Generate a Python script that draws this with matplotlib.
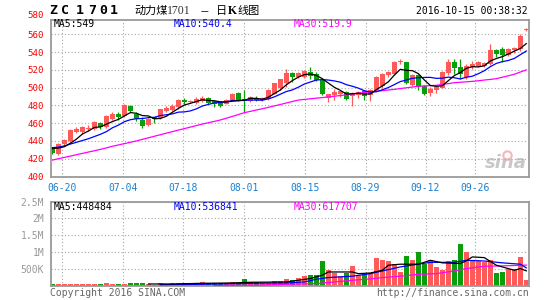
import matplotlib
matplotlib.use("Agg")
import matplotlib.pyplot as plt
import numpy as np

# daily candles, ZC1701, visible window (06-16 .. 10-14)
opens = [431.4, 425.7, 436.4, 440.2, 450.4, 449.6, 453.8, 453.4, 459.9, 456.1,
         464.8, 470.5, 467.9, 479.2, 470.5, 463.7, 458.4, 466.7, 465.6, 473.5,
         475.0, 478.1, 485.7, 484.2, 482.7, 484.6, 488.4, 484.6, 483.0, 481.9,
         485.7, 494.1, 486.9, 484.6, 488.8, 485.7, 486.9, 493.3, 499.0, 504.8,
         516.2, 512.0, 512.0, 517.0, 515.8, 508.6, 488.5, 491.5, 492.3, 494.9,
         490.4, 491.5, 496.0, 491.5, 497.2, 501.8, 514.3, 515.8, 528.9, 528.4,
         502.9, 514.4, 501.9, 494.3, 496.9, 500.0, 515.9, 529.2, 522.8, 511.4,
         522.8, 524.7, 524.7, 526.6, 541.8, 543.7, 537.2, 541.8, 543.7, 565.0]
closes = [426.9, 437.1, 440.9, 452.3, 453.4, 455.3, 454.2, 461.0, 455.3, 468.6,
          469.8, 466.7, 480.8, 473.5, 464.8, 456.5, 464.8, 464.8, 475.4, 477.3,
          479.2, 486.5, 483.8, 484.8, 487.6, 488.8, 482.7, 481.9, 479.2, 486.5,
          493.3, 485.7, 484.6, 489.5, 486.5, 488.4, 497.1, 504.8, 509.7, 516.2,
          511.6, 516.5, 518.9, 513.2, 508.2, 493.0, 492.3, 494.9, 496.1, 487.7,
          494.2, 494.9, 490.4, 497.2, 512.0, 515.0, 518.1, 528.4, 529.3, 505.6,
          514.3, 500.7, 493.1, 498.1, 500.7, 517.8, 529.2, 521.6, 515.2, 524.7,
          526.6, 528.5, 527.7, 542.5, 538.0, 537.2, 542.9, 544.4, 557.7, 565.5]
highs = [432.5, 438.0, 442.0, 453.0, 455.3, 457.0, 458.4, 462.0, 461.5, 469.0,
         472.5, 473.0, 481.0, 480.0, 472.0, 467.0, 466.0, 467.0, 476.0, 479.0,
         481.0, 487.0, 488.6, 486.0, 489.0, 490.7, 489.0, 485.7, 484.0, 487.5,
         494.0, 494.5, 497.1, 491.0, 490.7, 489.5, 498.0, 505.5, 510.0, 520.8,
         517.0, 518.0, 520.0, 522.7, 517.0, 510.0, 493.0, 498.0, 497.0, 496.0,
         495.0, 496.0, 497.0, 498.0, 513.0, 516.0, 519.0, 530.0, 532.2, 529.0,
         515.0, 515.0, 503.0, 500.7, 502.0, 519.0, 532.3, 532.3, 532.3, 526.5,
         529.6, 530.4, 529.0, 548.6, 543.7, 545.6, 545.0, 546.0, 560.8, 566.5]
lows = [425.0, 424.0, 435.0, 439.0, 448.5, 448.0, 450.8, 452.0, 453.0, 455.0,
        464.0, 464.0, 467.0, 472.0, 462.0, 455.0, 457.0, 460.0, 465.0, 472.0,
        474.0, 476.0, 482.0, 482.5, 481.0, 484.0, 481.0, 478.1, 478.0, 481.0,
        485.0, 485.0, 472.4, 484.0, 485.0, 485.0, 486.0, 493.0, 497.1, 501.0,
        506.7, 511.0, 511.0, 510.0, 507.0, 492.0, 483.9, 486.6, 489.0, 486.0,
        479.0, 488.0, 486.6, 484.7, 496.0, 500.0, 512.0, 514.0, 526.0, 504.0,
        502.0, 497.0, 492.0, 490.5, 494.0, 499.0, 514.0, 515.0, 509.5, 510.0,
        521.0, 522.8, 523.0, 525.0, 534.2, 528.5, 536.0, 539.0, 541.0, 563.5]
# volume, thousands of lots
volumes = [50, 50, 50, 50, 50, 50, 50, 50, 50, 90,
           50, 50, 50, 90, 90, 90, 70, 40, 80, 40,
           80, 80, 80, 80, 80, 110, 80, 80, 80, 80,
           110, 80, 200, 110, 110, 100, 100, 140, 150, 200,
           170, 230, 290, 320, 320, 730, 475, 385, 290, 375,
           585, 320, 350, 385, 830, 760, 730, 660, 415, 880,
           760, 1010, 660, 760, 565, 465, 730, 760, 1240, 1010,
           760, 730, 710, 760, 385, 415, 495, 495, 860, 170]

# moving averages as drawn on the chart
ma5 = [431.5, 432.0, 433.5, 437.5, 442.1, 447.8, 451.2, 455.2, 455.8, 458.9,
       461.8, 464.3, 468.2, 471.9, 471.1, 468.5, 468.1, 464.9, 465.3, 467.8,
       472.3, 476.6, 480.4, 482.3, 484.4, 486.3, 485.5, 485.2, 484.0, 483.8,
       484.7, 485.3, 485.9, 487.9, 487.9, 486.9, 489.2, 493.3, 497.3, 503.2,
       507.9, 511.8, 514.6, 515.3, 513.7, 510.0, 505.1, 500.3, 496.9, 492.8,
       493.0, 493.6, 492.7, 492.9, 497.7, 501.9, 506.5, 514.1, 520.6, 519.3,
       519.1, 515.7, 508.6, 502.4, 501.4, 502.1, 507.8, 513.5, 516.9, 521.7,
       523.5, 523.3, 524.5, 530.0, 532.7, 534.8, 537.7, 541.0, 544.0, 549.5]
ma10 = [432.5, 433.0, 434.5, 436.5, 438.5, 440.5, 442.5, 445.0, 447.5, 450.5,
        454.8, 457.8, 461.7, 463.9, 465.0, 465.2, 466.2, 466.6, 468.6, 469.5,
        470.4, 472.4, 472.7, 473.8, 476.1, 479.3, 481.1, 482.8, 483.2, 484.1,
        485.5, 485.4, 485.6, 486.0, 485.9, 485.8, 487.3, 489.6, 492.6, 495.6,
        497.4, 500.5, 504.0, 506.3, 508.5, 509.0, 508.5, 507.5, 506.1, 503.3,
        501.5, 499.4, 496.5, 494.9, 495.3, 497.5, 500.1, 503.4, 506.8, 508.5,
        510.5, 511.1, 511.4, 511.5, 510.4, 510.6, 511.8, 511.1, 509.7, 511.6,
        512.8, 515.6, 519.0, 523.5, 527.2, 529.2, 530.5, 532.8, 537.0, 541.1]
ma30 = [418.5, 420.0, 421.5, 423.0, 424.5, 426.0, 427.5, 429.0, 430.5, 432.2,
        434.0, 435.5, 437.0, 438.5, 440.0, 441.8, 443.5, 445.3, 447.0, 448.8,
        450.5, 452.2, 453.9, 455.6, 457.3, 459.0, 460.5, 462.0, 463.6, 465.6,
        467.6, 469.7, 471.8, 473.3, 474.8, 476.2, 477.8, 479.4, 481.0, 482.7,
        484.4, 486.0, 486.7, 487.4, 488.1, 488.8, 489.5, 490.3, 491.1, 491.9,
        492.8, 493.7, 494.5, 495.2, 495.9, 496.6, 497.3, 498.0, 498.9, 499.8,
        500.6, 501.5, 501.9, 502.2, 502.6, 503.6, 504.5, 505.5, 506.0, 506.5,
        507.0, 507.7, 508.5, 509.2, 510.0, 511.7, 513.3, 515.0, 517.5, 519.9]

# volume moving averages, read at points along each line (day index, thousands)
vma5_day = [16, 20, 25, 30, 33, 36, 39, 41, 43, 45, 46, 50, 51, 53, 55, 56, 58, 61,
            63, 65, 68, 69, 70, 72, 74, 77, 78, 79]
vma5_val = [60, 60, 80, 90, 110, 115, 120, 170, 220, 320, 415, 415, 365, 385, 465,
            615, 645, 645, 760, 685, 665, 745, 860, 840, 615, 465, 515, 448]
vma10_day = [18, 25, 30, 35, 39, 42, 44, 46, 50, 53, 55, 58, 61, 63, 67, 69, 72, 75, 78, 79]
vma10_val = [40, 50, 70, 85, 90, 120, 200, 250, 290, 365, 445, 565, 645, 700, 700,
             760, 740, 685, 645, 537]
vma30_day = [27, 35, 39, 44, 47, 50, 53, 55, 58, 61, 64, 67, 69, 72, 75, 79]
vma30_val = [20, 30, 50, 70, 120, 170, 210, 250, 290, 345, 365, 445, 515, 585, 595, 618]

date_labels = ["06-20", "07-04", "07-18", "08-01", "08-15", "08-29", "09-12", "09-26"]
date_pos = [1.55, 11.7, 21.75, 32.0, 42.1, 52.2, 62.2, 70.5]

RED = "#ff5a5a"
GREEN = "#0a9e0a"
GRID = "#a8a8a8"
FRAME = "#9a9a9a"
MONO = "DejaVu Sans Mono"

W, H = 545, 300
fig = plt.figure(figsize=(W / 100, H / 100), dpi=100)


def rect(l, t, r, b):
    return [l / W, 1 - b / H, (r - l) / W, (b - t) / H]


def ftext(x, y, s, **kw):
    fig.text(x / W, 1 - y / H, s, va="center", **kw)


ax = fig.add_axes(rect(50.5, 19.5, 529, 176.5))
axv = fig.add_axes(rect(50.5, 201.5, 529, 286))

o = np.array(opens)
c = np.array(closes)
x = np.arange(len(c))
cols = np.where(c >= o, RED, GREEN)

# candles
ax.vlines(x, lows, highs, colors=cols, lw=0.9, zorder=2)
ax.bar(x, np.maximum(np.abs(c - o), 1.0), bottom=np.minimum(o, c), width=0.82,
       color=cols, linewidth=0, zorder=2)
ax.plot(x, ma30, color="#ff00ff", lw=0.9, zorder=3)
ax.plot(x, ma10, color="#0000ff", lw=0.9, zorder=3)
ax.plot(x, ma5, color="black", lw=0.9, zorder=3)

# volume
axv.bar(x, np.array(volumes) * 1000, width=0.82, color=cols, linewidth=0, zorder=2)
axv.plot(vma30_day, np.array(vma30_val) * 1000, color="#ff00ff", lw=0.9, zorder=3)
axv.plot(vma10_day, np.array(vma10_val) * 1000, color="#0000ff", lw=0.9, zorder=3)
axv.plot(vma5_day, np.array(vma5_val) * 1000, color="black", lw=0.9, zorder=3)

for a in (ax, axv):
    a.set_xlim(-0.33, 79.45)
    a.set_xticks(date_pos)
    a.grid(True, color=GRID, lw=0.8, ls=(0, (1, 2)), zorder=0)
    a.tick_params(length=0)
    for sp in a.spines.values():
        sp.set_color(FRAME)
        sp.set_linewidth(1.3)

ax.set_ylim(400, 576.6)
ax.set_yticks(range(400, 580, 20))
ax.set_yticklabels([str(v) for v in range(400, 580, 20)], color="#ff0000",
                   fontsize=6.6, family=MONO)
ax.tick_params(axis="y", pad=4.6)
ax.set_xticklabels(date_labels, color="#1a7fd0", fontsize=7, family=MONO)
ax.tick_params(axis="x", pad=4.5)
ftext(44, 16, "580", ha="right", color="#ff0000", fontsize=6.6, family=MONO)

axv.set_ylim(0, 2.5e6)
axv.set_yticks([5e5, 1e6, 1.5e6, 2e6, 2.5e6])
axv.set_yticklabels(["500K", "1M", "1.5M", "2M", "2.5M"], color="#999999",
                    fontsize=7, family=MONO)
axv.tick_params(axis="y", pad=4.6)
axv.set_xticklabels([])

# header
for ch, cx in zip("ZC1701", [53, 65.5, 79.5, 92.5, 103.5, 114]):
    ftext(cx, 11, ch, ha="center", fontsize=9.5, fontweight="bold", family=MONO)
ftext(134, 11, "动力煤", family="Noto Sans CJK SC", fontsize=8)
ftext(167, 11.5, "1701", family="Liberation Serif", fontsize=8.5, color="#333333")
ftext(200, 11, "－", family="Noto Sans CJK SC", fontsize=7)
ftext(216, 11, "日", family="Noto Sans CJK SC", fontsize=8)
ftext(228, 11, "K", family="Liberation Serif", fontsize=8.5, fontweight="bold")
ftext(237, 11, "线图", family="Noto Sans CJK SC", fontsize=8)
ftext(528, 11, "2016-10-15 00:38:32", ha="right", fontsize=7, family=MONO)

# legends
ftext(54, 24, "MA5:549", fontsize=7, family=MONO, color="black")
ftext(174, 24, "MA10:540.4", fontsize=7, family=MONO, color="#0000ee")
ftext(294, 24, "MA30:519.9", fontsize=7, family=MONO, color="#ff00ff")
ftext(54, 206.5, "MA5:448484", fontsize=7, family=MONO, color="black")
ftext(174, 206.5, "MA10:536841", fontsize=7, family=MONO, color="#0000ee")
ftext(294, 206.5, "MA30:617707", fontsize=7, family=MONO, color="#ff00ff")

# watermark
ax.text(0.995, 0.03, "sina", transform=ax.transAxes, ha="right", va="bottom",
        fontsize=13, style="italic", fontweight="bold", color="#c8c8c8", zorder=1)
ax.plot([0.955], [0.14], transform=ax.transAxes, marker="o", ms=6, mfc="none",
        mec="#f2b8b8", mew=1.5, zorder=1)

# footer
ftext(50, 293, "Copyright 2016 SINA.COM", fontsize=7, family=MONO, color="#666666")
ftext(529, 293, "http://finance.sina.com.cn", ha="right", fontsize=7, family=MONO,
      color="#666666")

fig.savefig("out.png", dpi=100)
